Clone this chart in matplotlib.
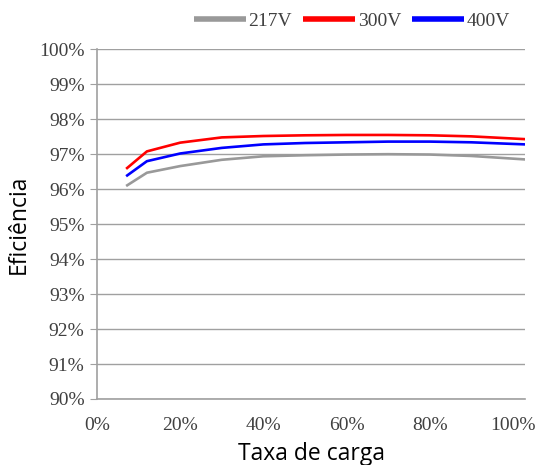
import matplotlib
matplotlib.use("Agg")
import matplotlib.pyplot as plt
from matplotlib.ticker import FuncFormatter

# load rate (fraction) and efficiency (%)
carga = [0.07, 0.12, 0.20, 0.30, 0.40, 0.50, 0.60, 0.70, 0.80, 0.90, 1.03]
ef_217 = [96.09, 96.47, 96.66, 96.84, 96.94, 96.97, 96.99, 97.00, 96.99, 96.95, 96.85]
ef_300 = [96.58, 97.08, 97.33, 97.48, 97.52, 97.54, 97.55, 97.55, 97.54, 97.51, 97.43]
ef_400 = [96.37, 96.80, 97.02, 97.18, 97.28, 97.32, 97.34, 97.36, 97.36, 97.34, 97.28]
series = ["217V", "300V", "400V"]
colors = ["#999999", "#ff0000", "#0000ff"]

fig = plt.figure(figsize=(5.36, 4.65), dpi=100)
ax = fig.add_axes([0.181, 0.142, 0.799, 0.752])

for ys, name, c in zip([ef_217, ef_300, ef_400], series, colors):
    ax.plot(carga, ys, color=c, linewidth=1.9, label=name, solid_capstyle="butt")

ax.set_xlim(0, 1.03)
ax.set_ylim(90, 100)
ax.set_xticks([0, 0.2, 0.4, 0.6, 0.8, 1.0])
ax.set_yticks(range(90, 101))
ax.xaxis.set_major_formatter(FuncFormatter(lambda v, p: "%d%%" % round(v * 100)))
ax.yaxis.set_major_formatter(FuncFormatter(lambda v, p: "%d%%" % v))

ax.grid(axis="y", color="#a0a0a0", linewidth=1)
ax.set_axisbelow(True)
for s in ["top", "right"]:
    ax.spines[s].set_visible(False)
for s in ["left", "bottom"]:
    ax.spines[s].set_color("#a0a0a0")
    ax.spines[s].set_linewidth(1.2)
ax.tick_params(axis="y", length=5, color="#a0a0a0", labelsize=14,
               labelcolor="#404040", pad=4)
ax.tick_params(axis="x", length=0, labelsize=14, labelcolor="#404040", pad=13)
for lab in ax.get_xticklabels() + ax.get_yticklabels():
    lab.set_family("Liberation Serif")

ax.set_xlabel("Taxa de carga", fontsize=16.5, family="Open Sans", color="#000000", labelpad=6)
ax.set_ylabel("Eficiência", fontsize=16.5, family="Open Sans", color="#000000", labelpad=6)

leg = ax.legend(loc="lower right", bbox_to_anchor=(1.005, 1.005), ncol=3, frameon=False,
                handlelength=2.7, handletextpad=0.12, columnspacing=0.55,
                borderaxespad=0.5, prop={"family": "Liberation Serif", "size": 14})
for h in leg.get_lines():
    h.set_linewidth(4)
for t in leg.get_texts():
    t.set_color("#404040")

fig.savefig("out.png", dpi=100)
